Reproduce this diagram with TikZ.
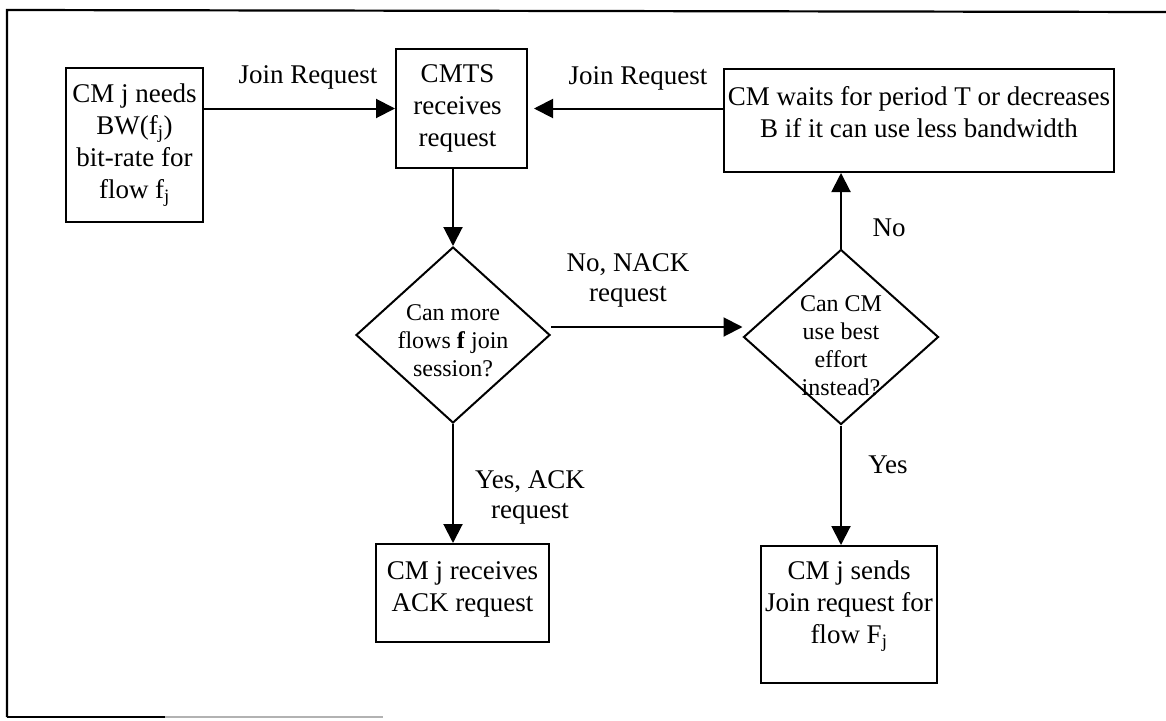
\documentclass[tikz,border=0pt]{standalone}
\usepackage{fontspec}
\setmainfont{Liberation Serif}
\usetikzlibrary{shapes.geometric,arrows.meta}

\tikzset{
  boxfont/.style={font=\fontsize{27}{32}\selectfont, align=center},
  dmdfont/.style={font=\fontsize{24}{28}\selectfont, align=center},
  lblfont/.style={font=\fontsize{27}{30}\selectfont, align=center},
  stepbox/.style={draw, line width=2pt, rectangle, inner sep=0pt},
  decision/.style={draw, line width=2pt, diamond, inner sep=0pt},
  flow/.style={line width=2pt, -{Triangle[length=19pt, width=19pt]}},
  frameline/.style={line width=2.2pt},
}

\begin{document}
\begin{tikzpicture}[x=1pt, y=-1pt]
\useasboundingbox (0,0) rectangle (1166,720);

% outer frame (open on the right)
\draw[frameline] (7,717) -- (7,10) -- (1166,12);
\draw[frameline] (7,717) -- (165,717);
\draw[frameline, gray!60] (165,717) -- (383,717);

% process boxes
\node[stepbox, minimum width=137pt, minimum height=154pt,
      label={[boxfont]center:{CM j needs\\BW(f\textsubscript{j})\\bit-rate for\\flow f\textsubscript{j}}}]
      (need) at (134.5,145) {};
\node[stepbox, minimum width=131pt, minimum height=119pt,
      label={[boxfont, xshift=-4pt]center:{CMTS\\receives\\request}}]
      (cmts) at (461.5,108.5) {};
\node[stepbox, minimum width=390pt, minimum height=103pt,
      label={[boxfont, yshift=8pt]center:{CM waits for period T or decreases\\B if it can use less bandwidth}}]
      (wait) at (919,120.5) {};
\node[stepbox, minimum width=173pt, minimum height=98pt,
      label={[boxfont, yshift=4pt]center:{CM j receives\\ACK request}}]
      (ack) at (462.5,593) {};
\node[stepbox, minimum width=176pt, minimum height=137pt,
      label={[boxfont, yshift=8.5pt]center:{CM j sends\\Join request for\\flow F\textsubscript{j}}}]
      (send) at (849,614.5) {};

% decisions
\node[decision, minimum width=194pt, minimum height=176pt,
      label={[dmdfont, yshift=-6pt]center:{Can more\\flows \textbf{f} join\\session?}}]
      (d1) at (453,335) {};
\node[decision, minimum width=195pt, minimum height=175pt,
      label={[dmdfont, yshift=-9pt]center:{Can CM\\use best\\effort\\instead?}}]
      (d2) at (841,337) {};

% connectors
\draw[flow] (cmts.west -| need.east) -- (cmts.west);
\draw[flow, shorten >=6pt] (cmts.east -| wait.west) -- (cmts.east);
\draw[flow] (cmts.south -| d1.north) -- (d1.north);
\draw[flow] ([yshift=8pt]d1.east) -- ([yshift=8pt]d1.east -| d2.west);
\draw[flow] (d1.south) -- (d1.south |- ack.north);
\draw[flow] (d2.north) -- (d2.north |- wait.south);
\draw[flow] (d2.south) -- (d2.south |- send.north);

% connector labels
\node[lblfont] (lj1) at (308,77) {Join Request};
\node[lblfont] (lj2) at (638,78) {Join Request};
\node[lblfont] (lnack) at (628,280) {No, NACK\\request};
\node[lblfont] (lno) at (889,228) {No};
\node[lblfont] (lack) at (530,497) {Yes, ACK\\request};
\node[lblfont] (lyes) at (888,465) {Yes};
\end{tikzpicture}
\end{document}
